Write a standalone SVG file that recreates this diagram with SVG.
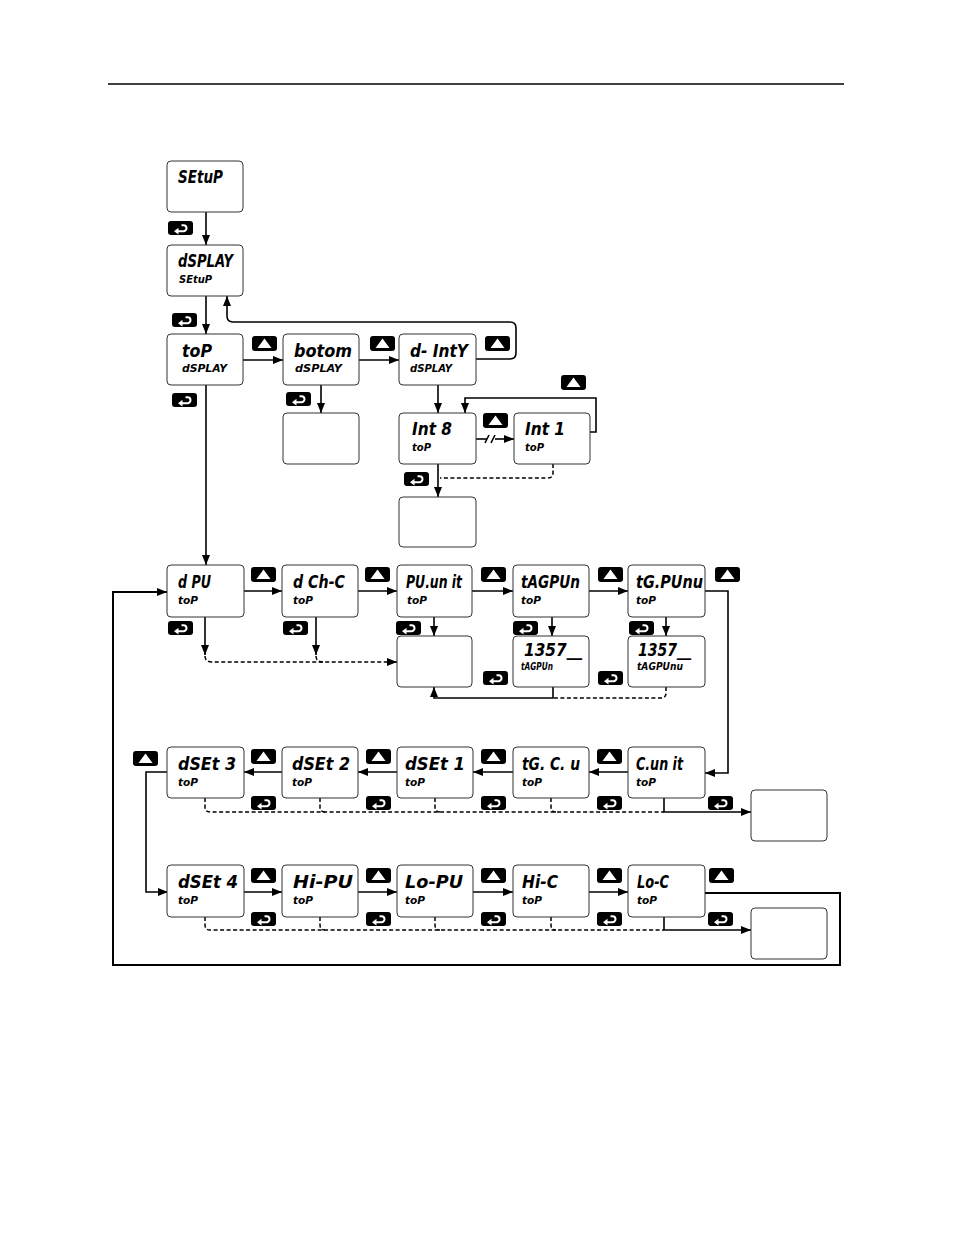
<svg xmlns="http://www.w3.org/2000/svg" xmlns:xlink="http://www.w3.org/1999/xlink" width="954" height="1235" viewBox="0 0 954 1235">
<style>
.bx{fill:#fff;stroke:#333;stroke-width:1}
.m{font-family:"DejaVu Sans Condensed","DejaVu Sans",sans-serif;font-weight:bold;font-style:oblique;font-size:17px;fill:#000}
.s{font-family:"DejaVu Sans Condensed","DejaVu Sans",sans-serif;font-weight:bold;font-style:oblique;font-size:10.5px;fill:#000}
.ln{fill:none;stroke:#000;stroke-width:1.6}
.th{fill:none;stroke:#000;stroke-width:2}
.ds{fill:none;stroke:#000;stroke-width:1.5;stroke-dasharray:4 2.5}
</style>
<defs>
<marker id="ah" markerWidth="10" markerHeight="8" refX="10" refY="4" orient="auto" markerUnits="userSpaceOnUse"><path d="M0,0 L10,4 L0,8 z" fill="#000"/></marker>
<g id="ent"><rect width="25" height="14" rx="3" fill="#000"/><path d="M10 10.2 H15.5 A3 3 0 0 0 15.5 4.2 H13.5" stroke="#fff" stroke-width="2" fill="none"/><path d="M6 10.2 L10.5 6.8 L10.5 13.6 z" fill="#fff"/></g>
<g id="up"><rect width="25" height="15" rx="3" fill="#000"/><path d="M12.5 2.5 L19.5 12 L5.5 12 z" fill="#fff"/></g>
</defs>
<rect width="954" height="1235" fill="#fff"/>
<line x1="108" y1="84" x2="844" y2="84" stroke="#000" stroke-width="1.5"/>

<g id="connectors">
<path class="ln" d="M206 212 V245" marker-end="url(#ah)"/>
<path class="ln" d="M206 296 V334" marker-end="url(#ah)"/>
<path class="ln" d="M243 360 H283" marker-end="url(#ah)"/>
<path class="ln" d="M359 360 H399" marker-end="url(#ah)"/>
<path class="ln" d="M476 359 H510 Q516 359 516 353 V328 Q516 322 510 322 H233 Q227 322 227 316 V296" marker-end="url(#ah)"/>
<path class="ln" d="M321 385 V413" marker-end="url(#ah)"/>
<path class="ln" d="M438 385 V413" marker-end="url(#ah)"/>
<path class="ln" d="M476 439 H487"/>
<path class="ln" d="M485 443 L489 435 M491 443 L495 435"/>
<path class="ln" d="M495 439 H514" marker-end="url(#ah)"/>
<path class="ln" d="M590 432 H596 V398 H465 V413" marker-end="url(#ah)"/>
<path class="ln" d="M438 464 V497" marker-end="url(#ah)"/>
<path class="ds" d="M553 464 V473 Q553 478 548 478 H440"/>
<path class="ln" d="M206 385 V565" marker-end="url(#ah)"/>

<path class="ln" d="M244 591 H282" marker-end="url(#ah)"/>
<path class="ln" d="M358 591 H397" marker-end="url(#ah)"/>
<path class="ln" d="M472 591 H513" marker-end="url(#ah)"/>
<path class="ln" d="M589 591 H628" marker-end="url(#ah)"/>
<path class="ln" d="M705 591 H728 V773 H705" marker-end="url(#ah)"/>
<path class="ln" d="M205 617 V655" marker-end="url(#ah)"/>
<path class="ln" d="M316 617 V655" marker-end="url(#ah)"/>
<path class="ds" d="M205 656 Q205 662 212 662 H389"/>
<path class="ds" d="M316 656 Q316 662 323 662"/>
<path class="ln" d="M389 662 H397" marker-end="url(#ah)"/>
<path class="ln" d="M434 617 V636" marker-end="url(#ah)"/>
<path class="ln" d="M552 617 V636" marker-end="url(#ah)"/>
<path class="ln" d="M666 617 V636" marker-end="url(#ah)"/>
<path class="ln" d="M553 687 V698 H434 V687" marker-end="url(#ah)"/>
<path class="ds" d="M666 687 V693 Q666 698 661 698 H553"/>

<path class="ln" d="M628 772 H589" marker-end="url(#ah)"/>
<path class="ln" d="M513 772 H473" marker-end="url(#ah)"/>
<path class="ln" d="M397 772 H358" marker-end="url(#ah)"/>
<path class="ln" d="M282 772 H244" marker-end="url(#ah)"/>
<path class="ln" d="M168 772 H146 V892 H168" marker-end="url(#ah)"/>
<path class="ds" d="M205 798 V807 Q205 812 210 812 H664"/>
<path class="ds" d="M320 798 V807 Q320 812 325 812"/>
<path class="ds" d="M435 798 V807 Q435 812 440 812"/>
<path class="ds" d="M551 798 V807 Q551 812 556 812"/>
<path class="ln" d="M664 798 V812 H751" marker-end="url(#ah)"/>

<path class="ln" d="M244 892 H282" marker-end="url(#ah)"/>
<path class="ln" d="M358 892 H397" marker-end="url(#ah)"/>
<path class="ln" d="M473 892 H513" marker-end="url(#ah)"/>
<path class="ln" d="M589 892 H628" marker-end="url(#ah)"/>
<path class="ds" d="M205 917 V925 Q205 930 210 930 H664"/>
<path class="ds" d="M320 917 V925 Q320 930 325 930"/>
<path class="ds" d="M435 917 V925 Q435 930 440 930"/>
<path class="ds" d="M551 917 V925 Q551 930 556 930"/>
<path class="ln" d="M664 917 V930 H751" marker-end="url(#ah)"/>
<path class="th" d="M705 893 H840 V965 H113 V592 H167" marker-end="url(#ah)"/>
</g>

<g id="buttons">
<use xlink:href="#ent" x="168" y="221"/>
<use xlink:href="#ent" x="172" y="313"/>
<use xlink:href="#up" x="252" y="336"/>
<use xlink:href="#up" x="370" y="336"/>
<use xlink:href="#up" x="485" y="336"/>
<use xlink:href="#ent" x="172" y="393"/>
<use xlink:href="#ent" x="286" y="392"/>
<use xlink:href="#up" x="483" y="413"/>
<use xlink:href="#up" x="561" y="375"/>
<use xlink:href="#ent" x="404" y="472"/>
<use xlink:href="#up" x="251" y="567"/>
<use xlink:href="#up" x="365" y="567"/>
<use xlink:href="#up" x="481" y="567"/>
<use xlink:href="#up" x="598" y="567"/>
<use xlink:href="#up" x="715" y="567"/>
<use xlink:href="#ent" x="168" y="621"/>
<use xlink:href="#ent" x="283" y="621"/>
<use xlink:href="#ent" x="396" y="621"/>
<use xlink:href="#ent" x="513" y="621"/>
<use xlink:href="#ent" x="629" y="621"/>
<use xlink:href="#ent" x="483" y="671"/>
<use xlink:href="#ent" x="598" y="671"/>
<use xlink:href="#up" x="133" y="751"/>
<use xlink:href="#up" x="251" y="749"/>
<use xlink:href="#up" x="366" y="749"/>
<use xlink:href="#up" x="481" y="749"/>
<use xlink:href="#up" x="597" y="749"/>
<use xlink:href="#ent" x="251" y="796"/>
<use xlink:href="#ent" x="366" y="796"/>
<use xlink:href="#ent" x="481" y="796"/>
<use xlink:href="#ent" x="597" y="796"/>
<use xlink:href="#ent" x="708" y="796"/>
<use xlink:href="#up" x="251" y="868"/>
<use xlink:href="#up" x="366" y="868"/>
<use xlink:href="#up" x="481" y="868"/>
<use xlink:href="#up" x="597" y="868"/>
<use xlink:href="#up" x="709" y="868"/>
<use xlink:href="#ent" x="251" y="912"/>
<use xlink:href="#ent" x="366" y="912"/>
<use xlink:href="#ent" x="481" y="912"/>
<use xlink:href="#ent" x="597" y="912"/>
<use xlink:href="#ent" x="708" y="912"/>
</g>

<g id="n-setup"><rect class="bx" x="167" y="161" width="76" height="51" rx="4"/><text class="m" x="178" y="183" textLength="45" lengthAdjust="spacingAndGlyphs">SEtuP</text></g>
<g id="n-display"><rect class="bx" x="167" y="245" width="76" height="51" rx="4"/><text class="m" x="178" y="267" textLength="55" lengthAdjust="spacingAndGlyphs">dSPLAY</text><text class="s" x="179" y="283" textLength="33" lengthAdjust="spacingAndGlyphs">SEtuP</text></g>
<g id="n-top"><rect class="bx" x="167" y="334" width="76" height="51" rx="4"/><text class="m" x="182" y="357" textLength="30" lengthAdjust="spacingAndGlyphs">toP</text><text class="s" x="182" y="372" textLength="45" lengthAdjust="spacingAndGlyphs">dSPLAY</text></g>
<g id="n-bottom"><rect class="bx" x="283" y="334" width="76" height="51" rx="4"/><text class="m" x="294" y="357" textLength="58" lengthAdjust="spacingAndGlyphs">botom</text><text class="s" x="295" y="372" textLength="47" lengthAdjust="spacingAndGlyphs">dSPLAY</text></g>
<g id="n-bottom-sub"><rect class="bx" x="283" y="413" width="76" height="51" rx="4"/></g>
<g id="n-dinty"><rect class="bx" x="399" y="334" width="77" height="51" rx="4"/><text class="m" x="410" y="357" textLength="58" lengthAdjust="spacingAndGlyphs">d- IntY</text><text class="s" x="410" y="372" textLength="42" lengthAdjust="spacingAndGlyphs">dSPLAY</text></g>
<g id="n-int8"><rect class="bx" x="399" y="413" width="77" height="51" rx="4"/><text class="m" x="412" y="435" textLength="40" lengthAdjust="spacingAndGlyphs">Int 8</text><text class="s" x="412" y="451" textLength="19" lengthAdjust="spacingAndGlyphs">toP</text></g>
<g id="n-int1"><rect class="bx" x="514" y="413" width="76" height="51" rx="4"/><text class="m" x="525" y="435" textLength="40" lengthAdjust="spacingAndGlyphs">Int  1</text><text class="s" x="525" y="451" textLength="19" lengthAdjust="spacingAndGlyphs">toP</text></g>
<g id="n-int-sub"><rect class="bx" x="399" y="497" width="77" height="50" rx="4"/></g>

<g id="n-dpu"><rect class="bx" x="167" y="565" width="77" height="52" rx="4"/><text class="m" x="178" y="588" textLength="33" lengthAdjust="spacingAndGlyphs">d PU</text><text class="s" x="178" y="604" textLength="20" lengthAdjust="spacingAndGlyphs">toP</text></g>
<g id="n-dchc"><rect class="bx" x="282" y="565" width="76" height="52" rx="4"/><text class="m" x="293" y="588" textLength="52" lengthAdjust="spacingAndGlyphs">d Ch-C</text><text class="s" x="293" y="604" textLength="20" lengthAdjust="spacingAndGlyphs">toP</text></g>
<g id="n-puunit"><rect class="bx" x="397" y="565" width="75" height="52" rx="4"/><text class="m" x="406" y="588" textLength="56" lengthAdjust="spacingAndGlyphs">PU.un it</text><text class="s" x="407" y="604" textLength="20" lengthAdjust="spacingAndGlyphs">toP</text></g>
<g id="n-tagpun"><rect class="bx" x="513" y="565" width="76" height="52" rx="4"/><text class="m" x="521" y="588" textLength="59" lengthAdjust="spacingAndGlyphs">tAGPUn</text><text class="s" x="521" y="604" textLength="20" lengthAdjust="spacingAndGlyphs">toP</text></g>
<g id="n-tgpunu"><rect class="bx" x="628" y="565" width="77" height="52" rx="4"/><text class="m" x="636" y="588" textLength="67" lengthAdjust="spacingAndGlyphs">tG.PUnu</text><text class="s" x="636" y="604" textLength="20" lengthAdjust="spacingAndGlyphs">toP</text></g>
<g id="n-puunit-sub"><rect class="bx" x="397" y="636" width="75" height="51" rx="4"/></g>
<g id="n-tagpun-val"><rect class="bx" x="513" y="636" width="76" height="51" rx="4"/><text class="m" x="524" y="656" textLength="58" lengthAdjust="spacingAndGlyphs">1357__</text><text class="s" x="521" y="670" textLength="32" lengthAdjust="spacingAndGlyphs">tAGPUn</text></g>
<g id="n-tagpunu-val"><rect class="bx" x="628" y="636" width="77" height="51" rx="4"/><text class="m" x="638" y="656" textLength="53" lengthAdjust="spacingAndGlyphs">1357__</text><text class="s" x="637" y="670" textLength="46" lengthAdjust="spacingAndGlyphs">tAGPUnu</text></g>

<g id="n-dset3"><rect class="bx" x="167" y="747" width="77" height="51" rx="4"/><text class="m" x="178" y="770" textLength="58" lengthAdjust="spacingAndGlyphs">dSEt 3</text><text class="s" x="178" y="786" textLength="20" lengthAdjust="spacingAndGlyphs">toP</text></g>
<g id="n-dset2"><rect class="bx" x="282" y="747" width="76" height="51" rx="4"/><text class="m" x="292" y="770" textLength="58" lengthAdjust="spacingAndGlyphs">dSEt 2</text><text class="s" x="292" y="786" textLength="20" lengthAdjust="spacingAndGlyphs">toP</text></g>
<g id="n-dset1"><rect class="bx" x="397" y="747" width="76" height="51" rx="4"/><text class="m" x="405" y="770" textLength="60" lengthAdjust="spacingAndGlyphs">dSEt  1</text><text class="s" x="405" y="786" textLength="20" lengthAdjust="spacingAndGlyphs">toP</text></g>
<g id="n-tgcu"><rect class="bx" x="513" y="747" width="76" height="51" rx="4"/><text class="m" x="522" y="770" textLength="58" lengthAdjust="spacingAndGlyphs">tG. C. u</text><text class="s" x="522" y="786" textLength="20" lengthAdjust="spacingAndGlyphs">toP</text></g>
<g id="n-cunit"><rect class="bx" x="628" y="747" width="77" height="51" rx="4"/><text class="m" x="636" y="770" textLength="47" lengthAdjust="spacingAndGlyphs">C.un it</text><text class="s" x="636" y="786" textLength="20" lengthAdjust="spacingAndGlyphs">toP</text></g>
<g id="n-cunit-sub"><rect class="bx" x="751" y="790" width="76" height="51" rx="4"/></g>

<g id="n-dset4"><rect class="bx" x="167" y="865" width="77" height="52" rx="4"/><text class="m" x="178" y="888" textLength="60" lengthAdjust="spacingAndGlyphs">dSEt 4</text><text class="s" x="178" y="904" textLength="20" lengthAdjust="spacingAndGlyphs">toP</text></g>
<g id="n-hipu"><rect class="bx" x="282" y="865" width="76" height="52" rx="4"/><text class="m" x="293" y="888" textLength="60" lengthAdjust="spacingAndGlyphs">Hi-PU</text><text class="s" x="293" y="904" textLength="20" lengthAdjust="spacingAndGlyphs">toP</text></g>
<g id="n-lopu"><rect class="bx" x="397" y="865" width="76" height="52" rx="4"/><text class="m" x="405" y="888" textLength="58" lengthAdjust="spacingAndGlyphs">Lo-PU</text><text class="s" x="405" y="904" textLength="20" lengthAdjust="spacingAndGlyphs">toP</text></g>
<g id="n-hic"><rect class="bx" x="513" y="865" width="76" height="52" rx="4"/><text class="m" x="522" y="888" textLength="36" lengthAdjust="spacingAndGlyphs">Hi-C</text><text class="s" x="522" y="904" textLength="20" lengthAdjust="spacingAndGlyphs">toP</text></g>
<g id="n-loc"><rect class="bx" x="628" y="865" width="77" height="52" rx="4"/><text class="m" x="637" y="888" textLength="32" lengthAdjust="spacingAndGlyphs">Lo-C</text><text class="s" x="637" y="904" textLength="20" lengthAdjust="spacingAndGlyphs">toP</text></g>
<g id="n-loc-sub"><rect class="bx" x="751" y="908" width="76" height="51" rx="4"/></g>
</svg>
